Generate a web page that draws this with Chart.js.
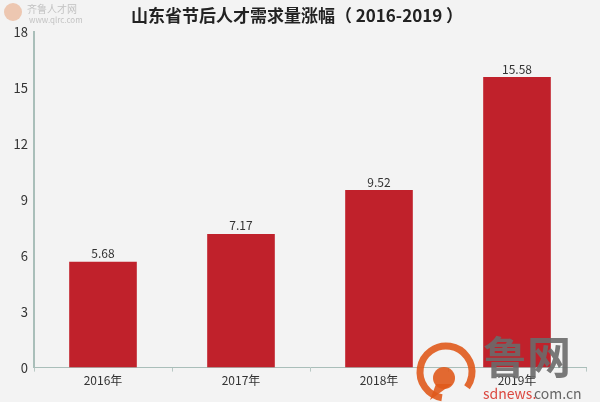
<!DOCTYPE html>
<html lang="zh">
<head>
<meta charset="UTF-8">
<title>山东省节后人才需求量涨幅</title>
<script src="https://cdn.jsdelivr.net/npm/chart.js"></script>
<style>
  html, body { margin: 0; padding: 0; background: #f3f3f3; }
  #wrap { width: 600px; height: 402px; }
</style>
</head>
<body>
<div id="wrap"><canvas id="c" width="600" height="402"></canvas></div>
<script>
const years = ['2016年', '2017年', '2018年', '2019年'];
const growth = [5.68, 7.17, 9.52, 15.58];
const yTicks = [0, 3, 6, 9, 12, 15, 18];

const font = "'Noto Sans CJK SC', 'Noto Sans', sans-serif";

// value labels above the bars
const valueLabels = {
    id: 'valueLabels',
    afterDatasetsDraw(chart) {
        const ctx = chart.ctx;
        const meta = chart.getDatasetMeta(0);
        ctx.save();
        ctx.font = '12px ' + font;
        ctx.fillStyle = '#333';
        ctx.textAlign = 'center';
        ctx.textBaseline = 'bottom';
        meta.data.forEach((bar, i) => {
            ctx.fillText(growth[i].toFixed(2), bar.x, bar.y - 2);
        });
        ctx.restore();
    }
};

// title and the two watermarks
const decor = {
    id: 'decor',
    afterDraw(chart) {
        const ctx = chart.ctx;
        ctx.save();
        ctx.fillStyle = '#222';
        ctx.font = 'bold 17px ' + font;
        ctx.textAlign = 'center';
        ctx.textBaseline = 'middle';
        ctx.fillText('山东省节后人才需求量涨幅（ 2016-2019 ）', 297, 16);

        // top-left logo
        ctx.globalAlpha = 0.55;
        ctx.fillStyle = '#e8a27a';
        ctx.beginPath();
        ctx.arc(13, 12, 9, 0, Math.PI * 2);
        ctx.fill();
        ctx.fillStyle = '#999';
        ctx.font = '10px ' + font;
        ctx.textAlign = 'left';
        ctx.fillText('齐鲁人才网', 27, 9);
        ctx.font = '8px ' + font;
        ctx.fillText('www.qlrc.com', 29, 20);
        ctx.globalAlpha = 1;

        // bottom-right logo
        ctx.globalAlpha = 0.9;
        ctx.strokeStyle = '#e05a1c';
        ctx.lineWidth = 7;
        ctx.beginPath();
        ctx.arc(446, 372, 26, Math.PI * 0.55, Math.PI * 2.2);
        ctx.stroke();
        ctx.fillStyle = '#e05a1c';
        ctx.beginPath();
        ctx.arc(444, 378, 11, 0, Math.PI * 2);
        ctx.fill();
        ctx.beginPath();
        ctx.moveTo(436, 384);
        ctx.lineTo(452, 384);
        ctx.lineTo(430, 400);
        ctx.closePath();
        ctx.fill();
        ctx.fillStyle = '#6a6a6a';
        ctx.font = 'bold 44px ' + font;
        ctx.textAlign = 'left';
        ctx.fillText('鲁网', 483, 357);
        ctx.font = '14px ' + font;
        ctx.fillStyle = '#d8332a';
        ctx.fillText('sdnews.', 483, 394);
        ctx.fillStyle = '#555';
        ctx.fillText('com.cn', 534, 394);
        ctx.restore();
    }
};

new Chart(document.getElementById('c'), {
    type: 'bar',
    data: {
        labels: years,
        datasets: [{
            data: growth,
            backgroundColor: '#c0212b',
            borderColor: '#c0212b',
            barPercentage: 0.49,
            categoryPercentage: 1
        }]
    },
    options: {
        responsive: false,
        animation: false,
        events: [],
        layout: { padding: { top: 32, right: 14, bottom: 12, left: 0 } },
        plugins: {
            legend: { display: false },
            title: { display: false },
            tooltip: { enabled: false }
        },
        scales: {
            x: {
                grid: {
                    display: true,
                    drawOnChartArea: false,
                    drawTicks: true,
                    tickLength: 4,
                    color: '#b8c8c4',
                    offset: true
                },
                border: { color: '#a9beb9', width: 1 },
                ticks: { color: '#333', font: { size: 12, family: font }, padding: 2 }
            },
            y: {
                min: 0,
                max: 18,
                afterBuildTicks(axis) {
                    axis.ticks = yTicks.map(v => ({ value: v }));
                },
                afterFit(axis) { axis.width = 34; },
                grid: { display: false, drawTicks: false },
                border: { color: '#a9beb9', width: 2 },
                ticks: { color: '#333', font: { size: 13, family: font }, padding: 6 }
            }
        }
    },
    plugins: [valueLabels, decor]
});
</script>
</body>
</html>
